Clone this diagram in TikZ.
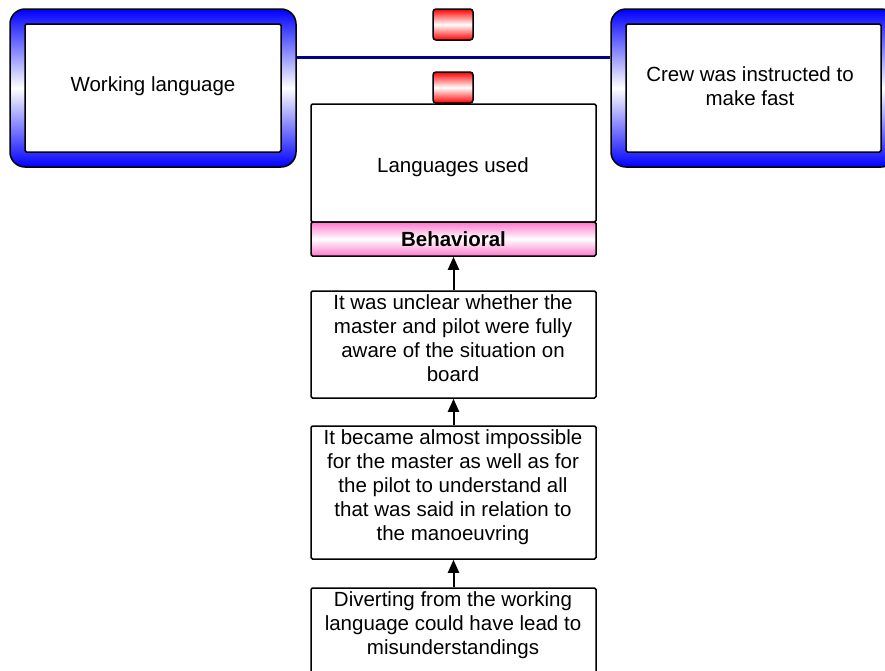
\documentclass[tikz,border=0pt]{standalone}
\usepackage{fontspec}
\setmainfont{Liberation Sans}
\usetikzlibrary{arrows.meta}
\definecolor{fbblue}{RGB}{0,0,255}
\definecolor{fbred}{RGB}{255,0,0}
\definecolor{fbpink}{RGB}{255,120,205}
\definecolor{fbnavy}{RGB}{0,0,140}
\tikzset{
  outerbox/.style={draw=black, line width=1.5pt, rounded corners=15pt, top color=fbblue, bottom color=fbblue, middle color=white, minimum width=#1, minimum height=158pt, inner sep=0pt},
  innerbox/.style={draw=black, line width=1.5pt, fill=white, rounded corners=1.5pt, minimum width=#1, minimum height=128pt, inner sep=0pt},
  barrier/.style={draw=black, line width=1.5pt, rounded corners=3pt, top color=fbred, bottom color=fbred, middle color=white, minimum width=40pt, minimum height=31pt, inner sep=0pt},
  stepbox/.style={draw=black, line width=1.5pt, fill=white, rounded corners=1.5pt, minimum width=285pt, inner sep=0pt},
  txt/.style={align=center, inner sep=0pt, font=\fontsize{20.5}{24}\selectfont},
  bandbox/.style={draw=black, line width=1.5pt, rounded corners=1.5pt, top color=fbpink, bottom color=fbpink, middle color=white, minimum width=285pt, minimum height=34pt, inner sep=0pt, font=\bfseries\fontsize{20.5}{24}\selectfont},
  conn/.style={draw=black, line width=2pt, -{Triangle[width=11pt,length=13pt]}},
}
\begin{document}
\begin{tikzpicture}[x=1pt,y=-1pt]
\useasboundingbox (0,0) rectangle (885,670);
\clip (0,0) rectangle (885,670);
% top blue boxes
\node[outerbox=286pt] (lo) at (153,88) {};
\node[innerbox=256pt] (li) at (153,88) {};
\node[txt] (lit) at (153,86) {Working language};
\node[outerbox=285pt] (ro) at (753.5,88) {};
\node[innerbox=255pt] (ri) at (753.5,88) {};
\node[txt] (rit) at (750,86) {Crew was instructed to\\make fast};
% connecting line
\draw[fbnavy, line width=3pt] ([yshift=31pt]lo.east) -- ([yshift=31pt]ro.west);
% barriers
\node[barrier] (r1) at (453,24.5) {};
\node[barrier] (r2) at (453,87.5) {};
% languages used box
\node[stepbox, minimum height=118pt] (lu) at (453.5,163) {};
\node[txt] (lut) at (453,167) {Languages used};
\node[bandbox] (bh) at (453.5,239) {Behavioral};
% chain
\node[stepbox, minimum height=107pt] (b2) at (453.5,344.5) {};
\node[txt] (b2t) at (453,338.5) {It was unclear whether the\\master and pilot were fully\\aware of the situation on\\board};
\node[stepbox, minimum height=133pt] (b3) at (453.5,492.5) {};
\node[txt] (b3t) at (453,487.5) {It became almost impossible\\for the master as well as for\\the pilot to understand all\\that was said in relation to\\the manoeuvring};
\node[stepbox, minimum height=100pt] (b4) at (453.5,638) {};
\node[txt] (b4t) at (453,625) {Diverting from the working\\language could have lead to\\misunderstandings};
\draw[conn] (b2.north) -- (bh.south);
\draw[conn] (b3.north) -- (b2.south);
\draw[conn] (b4.north) -- (b3.south);
\end{tikzpicture}
\end{document}
